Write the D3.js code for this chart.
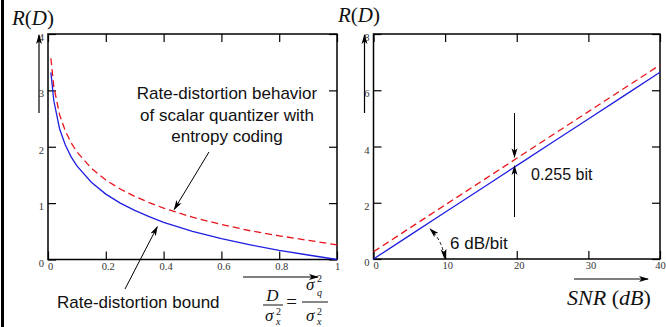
<!DOCTYPE html>
<html>
<head>
<meta charset="utf-8">
<script src="https://cdn.jsdelivr.net/npm/d3@7"></script>
<style>
  body { margin: 0; background: #fff; }
  svg { display: block; }
  .tick text { font-family: "Liberation Serif", "Times New Roman", serif; font-size: 10.5px; fill: #333; }
  .tick line { stroke: #000; stroke-width: 1.2; }
  .note { font-family: "Liberation Sans", Arial, sans-serif; font-size: 17px; fill: #111; }
  .math { font-family: "Liberation Serif", "Times New Roman", serif; fill: #111; }
</style>
</head>
<body>
<script>
// left panel: rate vs normalised distortion
var distortion = [0.01, 0.02, 0.04, 0.06, 0.08, 0.1, 0.15, 0.2, 0.25, 0.3, 0.35, 0.4, 0.5, 0.6, 0.7, 0.8, 0.9, 1.0];
var rdBound    = [3.32, 2.82, 2.32, 2.03, 1.82, 1.66, 1.37, 1.16, 1.0, 0.87, 0.76, 0.66, 0.5, 0.37, 0.26, 0.16, 0.08, 0.0];
var rdEcsq     = [3.57, 3.07, 2.57, 2.28, 2.07, 1.91, 1.62, 1.41, 1.25, 1.12, 1.01, 0.91, 0.75, 0.62, 0.51, 0.42, 0.34, 0.26];

// right panel: rate vs SNR
var snr        = [0, 5, 10, 15, 20, 25, 30, 35, 40];
var snrBound   = [0, 0.83, 1.66, 2.49, 3.32, 4.15, 4.98, 5.81, 6.64];
var snrEcsq    = [0.26, 1.09, 1.92, 2.75, 3.58, 4.41, 5.24, 6.07, 6.9];

// tick values
var xTicksL = [0, 0.2, 0.4, 0.6, 0.8, 1];
var yTicksL = [0, 1, 2, 3, 4];
var xTicksR = [0, 10, 20, 30, 40];
var yTicksR = [0, 2, 4, 6, 8];

var width = 666, height = 327;

var svg = d3.select("body").append("svg")
  .attr("width", width)
  .attr("height", height);

svg.append("rect").attr("width", width).attr("height", height).attr("fill", "#fff");

// thick rule on the left edge
svg.append("line")
  .attr("x1", 2.5).attr("x2", 2.5).attr("y1", 0).attr("y2", height)
  .attr("stroke", "#000").attr("stroke-width", 3);

// arrow markers
var defs = svg.append("defs");
defs.append("marker")
  .attr("id", "arr")
  .attr("viewBox", "0 0 10 6")
  .attr("refX", 9).attr("refY", 3)
  .attr("markerWidth", 10).attr("markerHeight", 6.5)
  .attr("markerUnits", "userSpaceOnUse")
  .attr("orient", "auto-start-reverse")
  .append("path")
  .attr("d", "M0,0 L10,3 L0,6 L2.5,3 Z")
  .attr("fill", "#000");

function drawPanel(opts) {
  var x = d3.scaleLinear().domain(opts.xDomain).range(opts.xRange);
  var y = d3.scaleLinear().domain(opts.yDomain).range(opts.yRange);
  var fmt = function(d) { return String(d); };
  var last = opts.xTicks[opts.xTicks.length - 1];

  var g = svg.append("g");

  // bottom axis (with labels)
  g.append("g")
    .attr("transform", "translate(0," + opts.yRange[0] + ")")
    .call(d3.axisBottom(x).tickValues(opts.xTicks).tickFormat(fmt).tickSize(-8).tickPadding(3))
    .call(function(a) { a.select(".domain").remove(); })
    .selectAll("text").attr("dx", function(d) { return d === last ? "0" : "2"; });

  // top axis (ticks only)
  g.append("g")
    .attr("transform", "translate(0," + opts.yRange[1] + ")")
    .call(d3.axisTop(x).tickValues(opts.xTicks).tickFormat("").tickSize(-8))
    .call(function(a) { a.select(".domain").remove(); });

  // left axis (with labels)
  g.append("g")
    .attr("transform", "translate(" + opts.xRange[0] + ",0)")
    .call(d3.axisLeft(y).tickValues(opts.yTicks).tickFormat(fmt).tickSize(-8).tickPadding(4))
    .call(function(a) { a.select(".domain").remove(); })
    .selectAll("text").attr("dy", "0.62em");

  // right axis (ticks only)
  g.append("g")
    .attr("transform", "translate(" + opts.xRange[1] + ",0)")
    .call(d3.axisRight(y).tickValues(opts.yTicks).tickFormat("").tickSize(-8))
    .call(function(a) { a.select(".domain").remove(); });

  // frame
  g.append("rect")
    .attr("x", opts.xRange[0]).attr("y", opts.yRange[1])
    .attr("width", opts.xRange[1] - opts.xRange[0])
    .attr("height", opts.yRange[0] - opts.yRange[1])
    .attr("fill", "none").attr("stroke", "#000").attr("stroke-width", 1.5);

  var line = d3.line()
    .x(function(d) { return x(d[0]); })
    .y(function(d) { return y(d[1]); });

  g.append("path")
    .datum(d3.zip(opts.xs, opts.bound))
    .attr("d", line)
    .attr("fill", "none").attr("stroke", "#1f1fe0").attr("stroke-width", 1.3);

  g.append("path")
    .datum(d3.zip(opts.xs, opts.ecsq))
    .attr("d", line)
    .attr("fill", "none").attr("stroke", "#e8141c").attr("stroke-width", 1.3)
    .attr("stroke-dasharray", "7,4");

  // y-axis arrow
  g.append("line")
    .attr("x1", opts.xRange[0] - 9).attr("x2", opts.xRange[0] - 9)
    .attr("y1", 113).attr("y2", opts.yRange[1] + 1)
    .attr("stroke", "#000").attr("stroke-width", 1.2)
    .attr("marker-end", "url(#arr)");

  // R(D) label
  var rd = svg.append("text").attr("class", "math")
    .attr("x", opts.rdX).attr("y", opts.rdY)
    .style("font-size", "21px");
  rd.append("tspan").style("font-style", "italic").text("R");
  rd.append("tspan").text("(");
  rd.append("tspan").style("font-style", "italic").text("D");
  rd.append("tspan").text(")");

  return { x: x, y: y, g: g };
}

var left = drawPanel({
  xDomain: [0, 1], xRange: [48, 337],
  yDomain: [0, 4], yRange: [259.5, 34],
  xTicks: xTicksL, yTicks: yTicksL,
  xs: distortion, bound: rdBound, ecsq: rdEcsq,
  rdX: 12, rdY: 25
});

var right = drawPanel({
  xDomain: [0, 40], xRange: [373.5, 660],
  yDomain: [0, 8], yRange: [259, 34],
  xTicks: xTicksR, yTicks: yTicksR,
  xs: snr, bound: snrBound, ecsq: snrEcsq,
  rdX: 338, rdY: 22
});

// ---- left annotations
var ecsqNote = svg.append("text").attr("class", "note").attr("text-anchor", "middle");
["Rate-distortion behavior", "of scalar quantizer with", "entropy coding"].forEach(function(t, i) {
  ecsqNote.append("tspan").attr("x", 227).attr("y", 99 + i * 21.5).text(t);
});

svg.append("line")
  .attr("x1", 209).attr("y1", 152)
  .attr("x2", left.x(0.437)).attr("y2", left.y(0.89))
  .attr("stroke", "#000").attr("stroke-width", 1)
  .attr("marker-end", "url(#arr)");

svg.append("text").attr("class", "note")
  .attr("x", 57).attr("y", 308).text("Rate-distortion bound");

svg.append("line")
  .attr("x1", 125).attr("y1", 289)
  .attr("x2", left.x(0.378)).attr("y2", left.y(0.58))
  .attr("stroke", "#000").attr("stroke-width", 1)
  .attr("marker-end", "url(#arr)");

// x-axis arrows
svg.append("line")
  .attr("x1", 243).attr("x2", 318).attr("y1", 277).attr("y2", 277)
  .attr("stroke", "#000").attr("stroke-width", 1.2)
  .attr("marker-end", "url(#arr)");
svg.append("line")
  .attr("x1", 574).attr("x2", 648).attr("y1", 279).attr("y2", 279)
  .attr("stroke", "#000").attr("stroke-width", 1.2)
  .attr("marker-end", "url(#arr)");

// D / sigma_x^2 = sigma_q^2 / sigma_x^2
var frac = svg.append("g").attr("class", "math");
function sigma(x0, base, sub, supDy, subDy) {
  frac.append("text").attr("x", x0).attr("y", base).style("font-size", "17px").style("font-style", "italic").text("σ");
  frac.append("text").attr("x", x0 + 11).attr("y", base + supDy).style("font-size", "10px").text("2");
  frac.append("text").attr("x", x0 + 11).attr("y", base + subDy).style("font-size", "10px").style("font-style", "italic").text(sub);
}
frac.append("text").attr("x", 272.5).attr("y", 301).attr("text-anchor", "middle")
  .style("font-size", "17px").style("font-style", "italic").text("D");
frac.append("line").attr("x1", 263).attr("x2", 283).attr("y1", 305).attr("y2", 305)
  .attr("stroke", "#111").attr("stroke-width", 1);
sigma(265, 320.5, "x", -6, 4.5);
frac.append("text").attr("x", 291.5).attr("y", 308).attr("text-anchor", "middle")
  .style("font-size", "19px").text("=");
sigma(306, 290, "q", -8, 6);
frac.append("line").attr("x1", 302).attr("x2", 328).attr("y1", 302).attr("y2", 302)
  .attr("stroke", "#111").attr("stroke-width", 1);
sigma(306, 320.5, "x", -6, 4.5);

// ---- right annotations
var snrLabel = svg.append("text").attr("class", "math")
  .attr("x", 567).attr("y", 305).style("font-size", "22px");
snrLabel.append("tspan").style("font-style", "italic").text("SNR ");
snrLabel.append("tspan").text("(");
snrLabel.append("tspan").style("font-style", "italic").text("dB");
snrLabel.append("tspan").text(")");

// 0.255 bit gap arrows
svg.append("line")
  .attr("x1", 514.5).attr("x2", 514.5).attr("y1", 113).attr("y2", right.y(3.62))
  .attr("stroke", "#000").attr("stroke-width", 1)
  .attr("marker-end", "url(#arr)");
svg.append("line")
  .attr("x1", 514.5).attr("x2", 514.5).attr("y1", 217).attr("y2", right.y(3.31))
  .attr("stroke", "#000").attr("stroke-width", 1)
  .attr("marker-end", "url(#arr)");
svg.append("text").attr("class", "note")
  .attr("x", 531).attr("y", 180).style("font-size", "16px").text("0.255 bit");

// 6 dB/bit slope arc
var p0 = [right.x(7.9), right.y(1.07)], p1 = [right.x(9.9), right.y(0.03)];
svg.append("path")
  .attr("d", "M" + p0 + " Q" + [443, 241.5] + " " + p1)
  .attr("fill", "none").attr("stroke", "#000").attr("stroke-width", 1)
  .attr("stroke-dasharray", "3,2.5")
  .attr("marker-start", "url(#arr)")
  .attr("marker-end", "url(#arr)");
svg.append("text").attr("class", "note")
  .attr("x", 450).attr("y", 249).text("6 dB/bit");
</script>
</body>
</html>
